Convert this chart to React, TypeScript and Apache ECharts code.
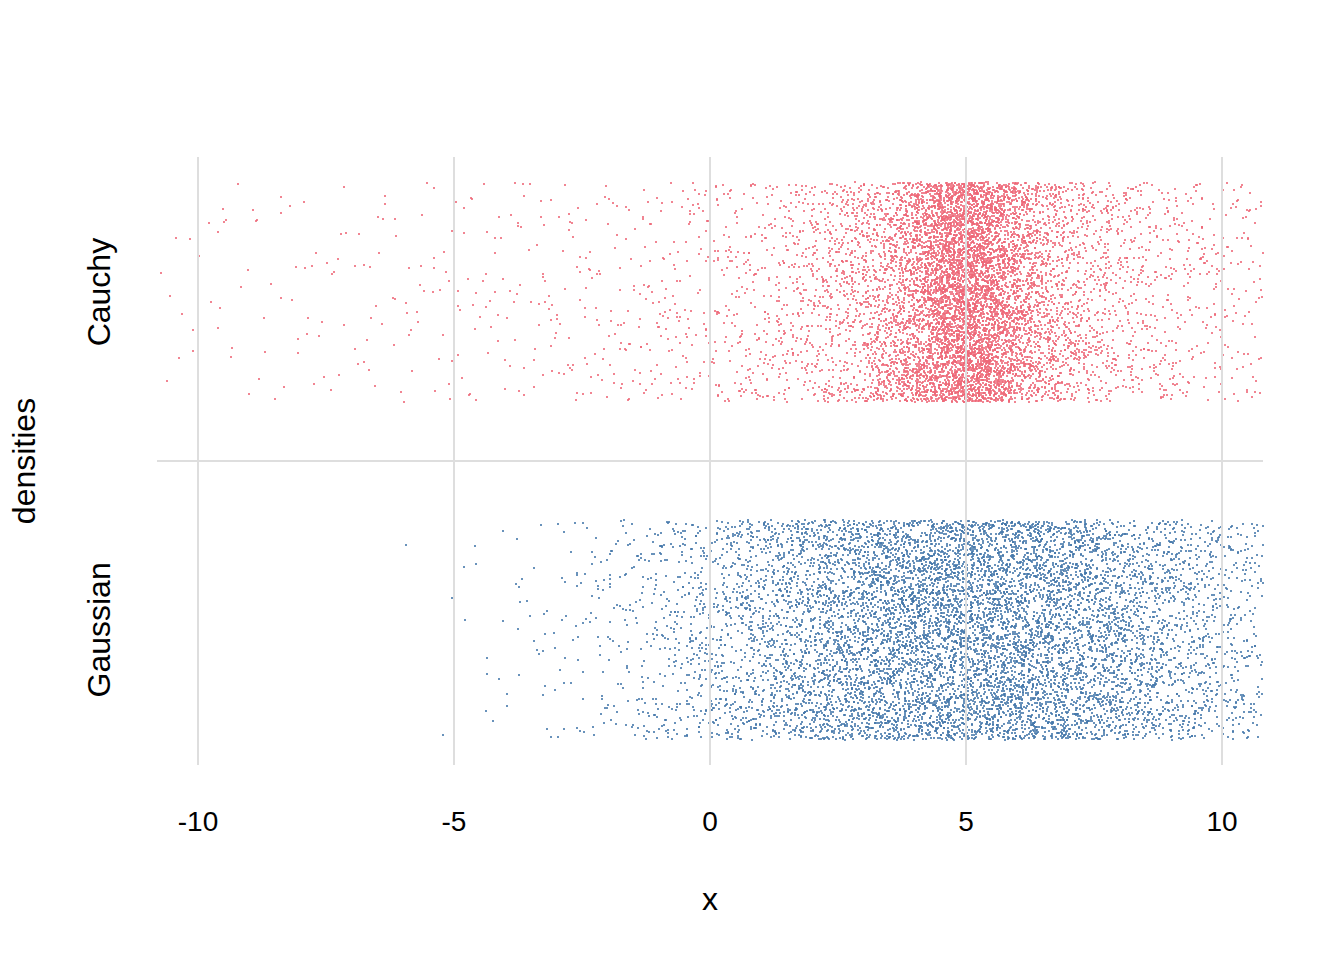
import React, { useEffect, useRef } from "react";
import * as echarts from "echarts";

// ---- data ----
// x is binned into 0.25-wide bins starting at BIN_START; counts are the number
// of jittered points seen in each bin.
const BIN_START = -11;
const BIN_WIDTH = 0.25;
const CATEGORIES = ["Gaussian", "Cauchy"]; // y positions 1 and 2
const X_TICKS = [-10, -5, 0, 5, 10];
const X_RANGE = [-10.8, 10.8];

// bins -11 .. 10.75
const CAUCHY_COUNTS = [
  3, 3, 3, 3, 4, 4, 4, 4,
  4, 4, 4, 5, 5, 5, 5, 5,
  6, 6, 6, 6, 7, 7, 7, 8,
  8, 9, 9, 9, 10, 11, 11, 12,
  13, 13, 14, 15, 16, 18, 19, 21,
  22, 24, 27, 29, 32, 36, 40, 44,
  50, 56, 64, 74, 86, 101, 120, 145,
  177, 219, 276, 352, 452, 572, 696, 780,
  780, 696, 572, 452, 352, 276, 219, 177,
  145, 120, 101, 86, 74, 64, 56, 50,
  44, 40, 36, 32, 29, 27, 24, 22,
];

const GAUSSIAN_COUNTS = [
  0, 0, 0, 0, 0, 0, 0, 0,
  0, 0, 0, 0, 0, 0, 0, 0,
  0, 0, 0, 0, 1, 0, 0, 2,
  2, 2, 3, 4, 5, 6, 7, 9,
  11, 13, 16, 20, 24, 29, 35, 41,
  49, 57, 67, 77, 89, 101, 115, 129,
  144, 160, 177, 193, 210, 227, 243, 259,
  274, 287, 299, 310, 319, 325, 330, 332,
  332, 330, 325, 319, 310, 299, 287, 274,
  259, 243, 227, 210, 193, 177, 160, 144,
  129, 115, 101, 89, 77, 67, 57, 49,
];

const JITTER_HALF_HEIGHT = 0.325;
const COLORS = { Cauchy: "#EE6677", Gaussian: "#4477AA" };

// deterministic jitter: an integer hash spreads each bin's points inside the bin
function hash01(n: number) {
  let h = n | 0;
  h = Math.imul(h ^ (h >>> 16), 0x7feb352d);
  h = Math.imul(h ^ (h >>> 15), 0x846ca68b);
  h ^= h >>> 16;
  return (h >>> 0) / 4294967296;
}

function jitterPoints(counts: number[], level: number, seed: number) {
  const pts: number[][] = [];
  let g = 0;
  counts.forEach((n, i) => {
    const lo = BIN_START + i * BIN_WIDTH;
    for (let k = 0; k < n; k++) {
      g++;
      const u = hash01(seed + 2 * g);
      const v = hash01(seed + 2 * g + 1);
      pts.push([lo + u * BIN_WIDTH, level + (2 * v - 1) * JITTER_HALF_HEIGHT]);
    }
  });
  return pts;
}

const FONT = "'Liberation Sans', Arial, Helvetica, sans-serif";

export default function App() {
  const ref = useRef<HTMLDivElement>(null);
  useEffect(() => {
    if (!ref.current) return;
    const chart = echarts.init(ref.current, undefined, { renderer: "svg" });
    const cauchy = jitterPoints(CAUCHY_COUNTS, 2, 1000003);
    const gauss = jitterPoints(GAUSSIAN_COUNTS, 1, 5000011);
    const pointSeries = (name: string, data: number[][], color: string) => ({
      type: "scatter",
      name,
      data,
      symbol: "rect",
      symbolSize: 2,
      large: false,
      progressive: 0,
      silent: true,
      clip: true,
      z: 3,
      itemStyle: { color },
    });
    chart.setOption({
      animation: false,
      backgroundColor: "#ffffff",
      grid: { left: 157, right: 81, top: 157, bottom: 195 },
      xAxis: {
        type: "value",
        min: X_RANGE[0],
        max: X_RANGE[1],
        axisLine: { show: false },
        axisTick: { show: false },
        splitLine: { show: false },
        axisLabel: {
          customValues: X_TICKS,
          fontSize: 28,
          color: "#000",
          fontFamily: FONT,
          margin: 42,
        },
        name: "x",
        nameLocation: "middle",
        nameGap: 118,
        nameTextStyle: { fontSize: 32, color: "#000", fontFamily: FONT },
      },
      yAxis: {
        type: "value",
        min: 0.6,
        max: 2.4,
        axisLine: { show: false },
        axisTick: { show: false },
        splitLine: { show: false },
        axisLabel: {
          customValues: [1, 2],
          formatter: (v: number) => CATEGORIES[Math.round(v) - 1] ?? "",
          rotate: 90,
          fontSize: 32,
          color: "#000",
          fontFamily: FONT,
          margin: 42,
        },
        name: "densities",
        nameLocation: "middle",
        nameRotate: 90,
        nameGap: 117,
        nameTextStyle: { fontSize: 32, color: "#000", fontFamily: FONT },
      },
      series: [
        {
          type: "scatter",
          name: "grid",
          data: [],
          z: 1,
          silent: true,
          markLine: {
            silent: true,
            z: 1,
            symbol: "none",
            label: { show: false },
            lineStyle: { color: "#DEDEDE", width: 2, type: "solid" },
            data: [...X_TICKS.map((v) => ({ xAxis: v })), { yAxis: 1.5 }],
          },
        },
        pointSeries("Cauchy", cauchy, COLORS.Cauchy),
        pointSeries("Gaussian", gauss, COLORS.Gaussian),
      ],
    });
    return () => chart.dispose();
  }, []);
  return (
    <>
      <style>{`#jitter-chart svg path { shape-rendering: crispEdges; }`}</style>
      <div
        id="jitter-chart"
        ref={ref}
        style={{ position: "fixed", left: 0, top: 0, width: 1344, height: 960 }}
      />
    </>
  );
}
